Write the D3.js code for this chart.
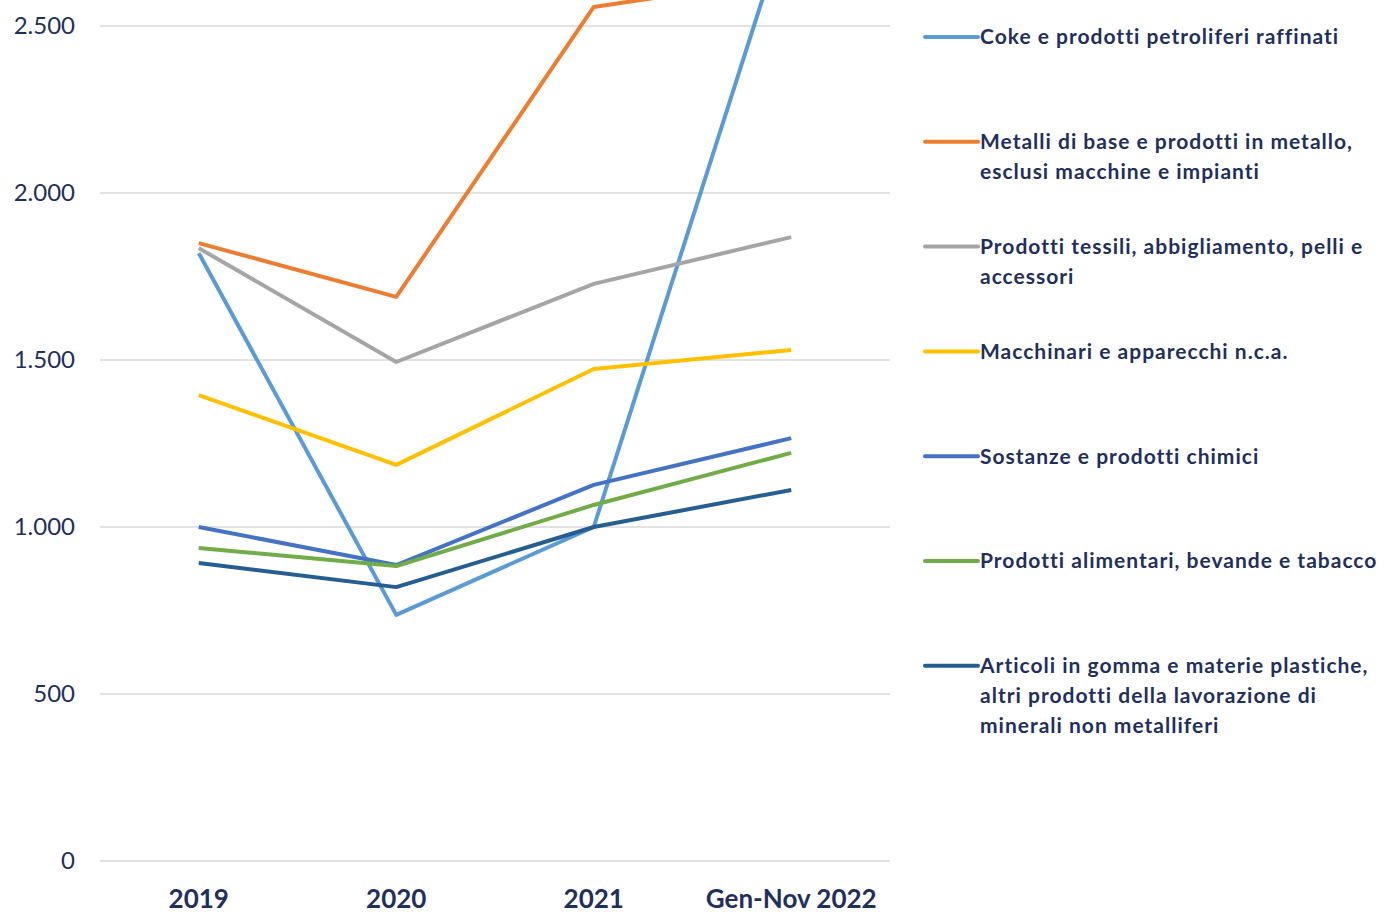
<!DOCTYPE html>
<html>
<head>
<meta charset="utf-8">
<script src="https://cdn.jsdelivr.net/npm/d3@7"></script>
<style>
  body { margin: 0; background: #fff; }
  svg { display: block; font-family: Lato, "Open Sans", sans-serif; }
</style>
</head>
<body>
<svg id="chart" width="1386" height="912"></svg>
<script>
/* categories and values */
var categories = ["2019", "2020", "2021", "Gen-Nov 2022"];
var yTicks = [0, 500, 1000, 1500, 2000, 2500];

var coke       = [1820, 737, 1000, 2850];
var metalli    = [1850, 1689, 2557, 2645];
var tessili    = [1835, 1494, 1728, 1868];
var macchinari = [1395, 1186, 1473, 1530];
var chimici    = [1000, 886, 1126, 1266];
var alimentari = [937, 883, 1066, 1222];
var gomma      = [892, 820, 1000, 1111];

var seriesNames = [
  ["Coke e prodotti petroliferi raffinati"],
  ["Metalli di base e prodotti in metallo,", "esclusi macchine e impianti"],
  ["Prodotti tessili, abbigliamento, pelli e", "accessori"],
  ["Macchinari e apparecchi n.c.a."],
  ["Sostanze e prodotti chimici"],
  ["Prodotti alimentari, bevande e tabacco"],
  ["Articoli in gomma e materie plastiche,", "altri prodotti della lavorazione di", "minerali non metalliferi"]
];
var seriesValues = [coke, metalli, tessili, macchinari, chimici, alimentari, gomma];
var colors = ["#5B9BD5", "#ED7D31", "#A5A5A5", "#FFC000", "#4472C4", "#70AD47", "#255E91"];

var svg = d3.select("#chart");
var textColor = "#1F2F5E";

/* scales */
var x = d3.scaleBand().domain(categories).range([100, 890]).padding(0);
var y = d3.scaleLinear().domain([0, 2500]).range([861, 26]);
function cx(d) { return x(d) + x.bandwidth() / 2; }

/* gridlines */
svg.append("g").selectAll("line")
  .data(yTicks).enter().append("line")
  .attr("x1", 100).attr("x2", 890)
  .attr("y1", function(d){ return y(d); })
  .attr("y2", function(d){ return y(d); })
  .attr("stroke", "#D9D9D9")
  .attr("stroke-width", 1.5);

/* y tick labels */
svg.append("g").selectAll("text")
  .data(yTicks).enter().append("text")
  .attr("x", 75)
  .attr("y", function(d){ return y(d); })
  .attr("dy", "0.35em")
  .attr("text-anchor", "end")
  .attr("font-size", "24px")
  .attr("fill", textColor)
  .text(function(d){ return d3.format(",")(d).replace(/,/g, "."); });

/* x labels */
svg.append("g").selectAll("text")
  .data(categories).enter().append("text")
  .attr("x", function(d){ return cx(d); })
  .attr("y", 908)
  .attr("text-anchor", "middle")
  .attr("font-size", "26px")
  .attr("font-weight", "bold")
  .attr("fill", textColor)
  .text(function(d){ return d; });

/* lines */
var line = d3.line()
  .x(function(d, i){ return cx(categories[i]); })
  .y(function(d){ return y(d); });

svg.append("g").selectAll("path")
  .data(seriesValues).enter().append("path")
  .attr("d", line)
  .attr("fill", "none")
  .attr("stroke", function(d, i){ return colors[i]; })
  .attr("stroke-width", 4)
  .attr("stroke-linejoin", "round");

/* legend */
var legend = svg.append("g").selectAll("g")
  .data(seriesNames).enter().append("g")
  .attr("transform", function(d, i){ return "translate(0," + (37 + i * 104.8) + ")"; });

legend.append("line")
  .attr("x1", 925).attr("x2", 978)
  .attr("y1", 0).attr("y2", 0)
  .attr("stroke", function(d, i){ return colors[i]; })
  .attr("stroke-width", 4)
  .attr("stroke-linecap", "round");

legend.append("text")
  .attr("x", 980)
  .attr("y", 0)
  .attr("font-size", "21px")
  .attr("font-weight", "bold")
  .attr("letter-spacing", "1px")
  .attr("fill", textColor)
  .selectAll("tspan")
  .data(function(d){ return d; }).enter().append("tspan")
  .attr("x", 980)
  .attr("dy", function(d, i){ return i === 0 ? "0.35em" : "30px"; })
  .text(function(d){ return d; });
</script>
</body>
</html>
